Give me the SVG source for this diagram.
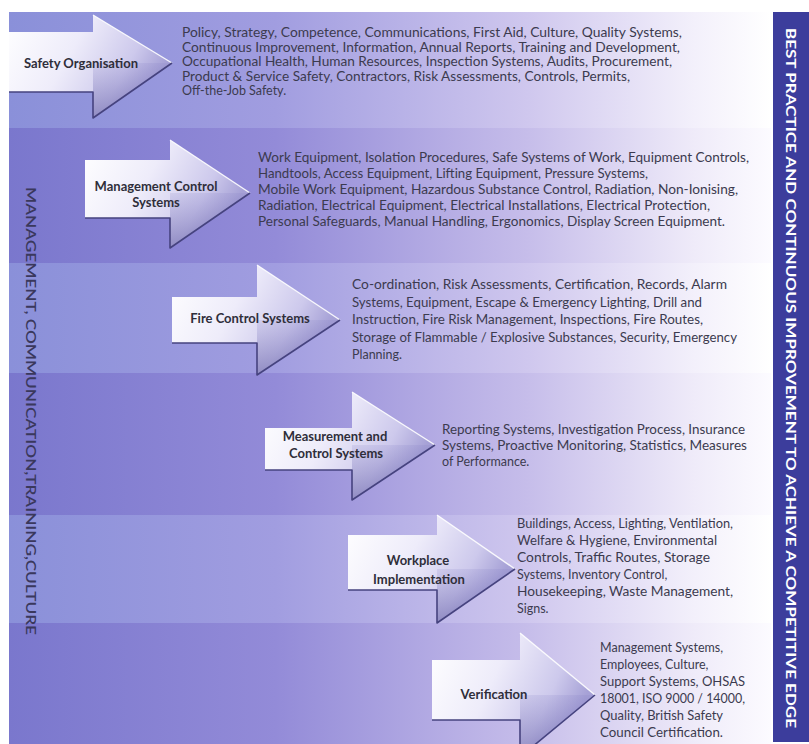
<svg xmlns="http://www.w3.org/2000/svg" width="809" height="744" viewBox="0 0 809 744">
  <defs>
    <linearGradient id="bandLight" gradientUnits="userSpaceOnUse" x1="9" y1="0" x2="771" y2="0">
      <stop offset="0" stop-color="#8a90d9"/>
      <stop offset="0.35" stop-color="#a19de0"/>
      <stop offset="0.68" stop-color="#cfc7ee"/>
      <stop offset="0.9" stop-color="#f3f0fb"/>
      <stop offset="1" stop-color="#ffffff"/>
    </linearGradient>
    <linearGradient id="bandDark" gradientUnits="userSpaceOnUse" x1="9" y1="0" x2="771" y2="0">
      <stop offset="0" stop-color="#7a77cd"/>
      <stop offset="0.35" stop-color="#938bd8"/>
      <stop offset="0.68" stop-color="#c6bdea"/>
      <stop offset="0.9" stop-color="#efebf9"/>
      <stop offset="1" stop-color="#fcfbff"/>
    </linearGradient>
    <linearGradient id="arrowFill" x1="0" y1="0" x2="1" y2="0.35">
      <stop offset="0" stop-color="#ffffff"/>
      <stop offset="0.45" stop-color="#eeecfa"/>
      <stop offset="0.8" stop-color="#cdc9ec"/>
      <stop offset="1" stop-color="#a6a1d6"/>
    </linearGradient>
    <linearGradient id="headShade" x1="0" y1="0" x2="0" y2="1">
      <stop offset="0" stop-color="#7d78c0" stop-opacity="0.15"/>
      <stop offset="1" stop-color="#5d58a0" stop-opacity="0.55"/>
    </linearGradient>
    <clipPath id="panelClip"><rect x="9" y="12" width="762" height="732"/></clipPath>
  </defs>
  <style>
    .d { font-family: Lato, "Open Sans", "Liberation Sans", sans-serif; font-size: 12.5px; fill: #3c3b4f; }
    .lbl { font-family: Lato, "Open Sans", "Liberation Sans", sans-serif; font-size: 13px; font-weight: bold; fill: #2f2e3a; text-anchor: middle; }
    .arrow { fill: url(#arrowFill); }
    .shade { fill: url(#headShade); }
    .edgeDark { fill: none; stroke: #46437f; stroke-width: 1.6; stroke-linejoin: round; }
    .edgeLight { fill: none; stroke: #ffffff; stroke-width: 1.4; stroke-opacity: 0.9; }
  </style>

  <rect x="0" y="0" width="809" height="744" fill="#ffffff"/>

  <g id="bands">
    <rect x="9" y="12" width="762" height="116" fill="url(#bandLight)"/>
    <rect x="9" y="128" width="762" height="135" fill="url(#bandDark)"/>
    <rect x="9" y="263" width="762" height="110" fill="url(#bandLight)"/>
    <rect x="9" y="373" width="762" height="142" fill="url(#bandDark)"/>
    <rect x="9" y="515" width="762" height="108" fill="url(#bandLight)"/>
    <rect x="9" y="623" width="762" height="121" fill="url(#bandDark)"/>
  </g>

  <g id="side-left">
    <text transform="translate(31,411) rotate(90)" dy="0.36em" text-anchor="middle" textLength="448" lengthAdjust="spacingAndGlyphs" style="font-family: Lato, 'Liberation Sans', sans-serif; font-size: 14px; fill: #3a385c; font-weight: 600;">MANAGEMENT, COMMUNICATION,TRAINING,CULTURE</text>
  </g>

  <g id="side-right">
    <rect x="773" y="12" width="36" height="730" fill="#3c3d9c"/>
    <text transform="translate(791,378) rotate(90)" dy="0.36em" text-anchor="middle" textLength="700" lengthAdjust="spacingAndGlyphs" style="font-family: Lato, 'Liberation Sans', sans-serif; font-size: 14px; fill: #ffffff; font-weight: bold;">BEST PRACTICE AND CONTINUOUS IMPROVEMENT TO ACHIEVE A COMPETITIVE EDGE</text>
  </g>

  <g id="connectors"></g>

  <g id="safety-organisation">
    <polygon class="arrow" points="9,32 93,32 93,15 172,63 93,118 93,92 9,92"/>
    <polygon class="shade" points="93,63 172,63 93,118"/>
    <polyline class="edgeLight" points="93,15 172,63"/>
    <polyline class="edgeDark" points="9,92 93,92 93,118 172,63"/>
    <text class="lbl" x="81" y="68">Safety Organisation</text>
    <text class="d" x="182" y="37" textLength="500" lengthAdjust="spacingAndGlyphs">Policy, Strategy, Competence, Communications, First Aid, Culture, Quality Systems,</text>
    <text class="d" x="182" y="51.5" textLength="498" lengthAdjust="spacingAndGlyphs">Continuous Improvement, Information, Annual Reports, Training and Development,</text>
    <text class="d" x="182" y="66" textLength="490" lengthAdjust="spacingAndGlyphs">Occupational Health, Human Resources, Inspection Systems, Audits, Procurement,</text>
    <text class="d" x="182" y="80.5" textLength="448" lengthAdjust="spacingAndGlyphs">Product &amp; Service Safety, Contractors, Risk Assessments, Controls, Permits,</text>
    <text class="d" x="182" y="95">Off-the-Job Safety.</text>
  </g>

  <g id="management-control-systems">
    <polygon class="arrow" points="85,160 170,160 170,140 250,193 170,248 170,218 85,218"/>
    <polygon class="shade" points="170,193 250,193 170,248"/>
    <polyline class="edgeLight" points="170,140 250,193"/>
    <polyline class="edgeDark" points="85,218 170,218 170,248 250,193"/>
    <text class="lbl" x="156" y="191">Management Control</text>
    <text class="lbl" x="156" y="207">Systems</text>
    <text class="d" x="258" y="162" textLength="491" lengthAdjust="spacingAndGlyphs">Work Equipment, Isolation Procedures, Safe Systems of Work, Equipment Controls,</text>
    <text class="d" x="258" y="178" textLength="390" lengthAdjust="spacingAndGlyphs">Handtools, Access Equipment, Lifting Equipment, Pressure Systems,</text>
    <text class="d" x="258" y="194" textLength="480" lengthAdjust="spacingAndGlyphs">Mobile Work Equipment, Hazardous Substance Control, Radiation, Non-Ionising,</text>
    <text class="d" x="258" y="210" textLength="452" lengthAdjust="spacingAndGlyphs">Radiation, Electrical Equipment, Electrical Installations, Electrical Protection,</text>
    <text class="d" x="258" y="226" textLength="467" lengthAdjust="spacingAndGlyphs">Personal Safeguards, Manual Handling, Ergonomics, Display Screen Equipment.</text>
  </g>

  <g id="fire-control-systems">
    <polygon class="arrow" points="172,297 257,297 257,265 340,320 257,375 257,343 172,343"/>
    <polygon class="shade" points="257,320 340,320 257,375"/>
    <polyline class="edgeLight" points="257,265 340,320"/>
    <polyline class="edgeDark" points="172,343 257,343 257,375 340,320"/>
    <text class="lbl" x="250" y="323">Fire Control Systems</text>
    <text class="d" x="352" y="289" textLength="375" lengthAdjust="spacingAndGlyphs">Co-ordination, Risk Assessments, Certification, Records, Alarm</text>
    <text class="d" x="352" y="306.5" textLength="350" lengthAdjust="spacingAndGlyphs">Systems, Equipment, Escape &amp; Emergency Lighting, Drill and</text>
    <text class="d" x="352" y="324" textLength="351" lengthAdjust="spacingAndGlyphs">Instruction, Fire Risk Management, Inspections, Fire Routes,</text>
    <text class="d" x="352" y="341.5" textLength="385" lengthAdjust="spacingAndGlyphs">Storage of Flammable / Explosive Substances, Security, Emergency</text>
    <text class="d" x="352" y="359">Planning.</text>
  </g>

  <g id="measurement-control-systems">
    <polygon class="arrow" points="265,428 352,428 352,392 435,445 352,500 352,470 265,470"/>
    <polygon class="shade" points="352,445 435,445 352,500"/>
    <polyline class="edgeLight" points="352,392 435,445"/>
    <polyline class="edgeDark" points="265,470 352,470 352,500 435,445"/>
    <text class="lbl" x="335" y="441">Measurement and</text>
    <text class="lbl" x="336" y="458">Control Systems</text>
    <text class="d" x="442" y="434" textLength="303" lengthAdjust="spacingAndGlyphs">Reporting Systems, Investigation Process, Insurance</text>
    <text class="d" x="442" y="450" textLength="305" lengthAdjust="spacingAndGlyphs">Systems, Proactive Monitoring, Statistics, Measures</text>
    <text class="d" x="442" y="466">of Performance.</text>
  </g>

  <g id="workplace-implementation">
    <polygon class="arrow" points="348,535 437,535 437,515 515,569 437,623 437,590 348,590"/>
    <polygon class="shade" points="437,569 515,569 437,623"/>
    <polyline class="edgeLight" points="437,515 515,569"/>
    <polyline class="edgeDark" points="348,590 437,590 437,623 515,569"/>
    <text class="lbl" x="418" y="565">Workplace</text>
    <text class="lbl" x="419" y="584">Implementation</text>
    <text class="d" x="517" y="528" textLength="216" lengthAdjust="spacingAndGlyphs">Buildings, Access, Lighting, Ventilation,</text>
    <text class="d" x="517" y="545" textLength="200" lengthAdjust="spacingAndGlyphs">Welfare &amp; Hygiene, Environmental</text>
    <text class="d" x="517" y="562" textLength="193" lengthAdjust="spacingAndGlyphs">Controls, Traffic Routes, Storage</text>
    <text class="d" x="517" y="579">Systems, Inventory Control,</text>
    <text class="d" x="517" y="596" textLength="216" lengthAdjust="spacingAndGlyphs">Housekeeping, Waste Management,</text>
    <text class="d" x="517" y="613">Signs.</text>
  </g>

  <g id="verification" clip-path="url(#panelClip)">
    <polygon class="arrow" points="432,660 520,660 520,633 595,695 520,757 520,720 432,720"/>
    <polygon class="shade" points="520,695 595,695 520,757"/>
    <polyline class="edgeLight" points="520,633 595,695"/>
    <polyline class="edgeDark" points="432,720 520,720 520,757 595,695"/>
    <text class="lbl" x="494" y="699">Verification</text>
    <text class="d" x="600" y="652">Management Systems,</text>
    <text class="d" x="600" y="669">Employees, Culture,</text>
    <text class="d" x="600" y="686" textLength="145" lengthAdjust="spacingAndGlyphs">Support Systems, OHSAS</text>
    <text class="d" x="600" y="703" textLength="145" lengthAdjust="spacingAndGlyphs">18001, ISO 9000 / 14000,</text>
    <text class="d" x="600" y="720" textLength="123" lengthAdjust="spacingAndGlyphs">Quality, British Safety</text>
    <text class="d" x="600" y="737" textLength="123" lengthAdjust="spacingAndGlyphs">Council Certification.</text>
  </g>
</svg>
